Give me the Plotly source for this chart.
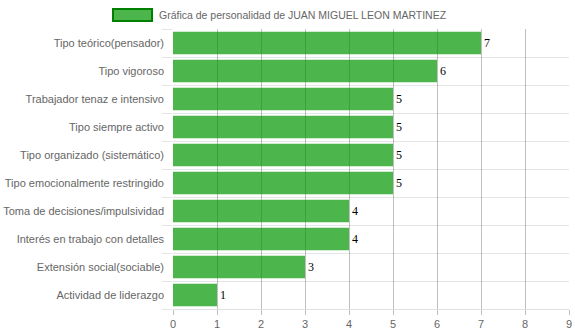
import plotly.graph_objects as go

categories = [
    "Tipo teórico(pensador)",
    "Tipo vigoroso",
    "Trabajador tenaz e intensivo",
    "Tipo siempre activo",
    "Tipo organizado (sistemático)",
    "Tipo emocionalmente restringido",
    "Toma de decisiones/impulsividad",
    "Interés en trabajo con detalles",
    "Extensión social(sociable)",
    "Actividad de liderazgo",
]
values = [7, 6, 5, 5, 5, 5, 4, 4, 3, 1]
series_name = "Gráfica de personalidad de JUAN MIGUEL LEON MARTINEZ"
x_ticks = list(range(0, 10))

n = len(categories)
ypos = list(range(n))  # 0 at top (axis reversed)

label_font = dict(family="Liberation Serif, Times New Roman, serif", size=12, color="black")

fig = go.Figure()
fig.add_trace(go.Bar(
    x=values, y=ypos, orientation="h", name=series_name,
    marker=dict(color="rgba(0,150,0,0.7)", line=dict(width=0)),
    width=0.8,
    text=[str(v) for v in values], textposition="outside",
    textfont=label_font, outsidetextfont=label_font,
    cliponaxis=False, showlegend=False,
))

fig.update_layout(
    width=575, height=334,
    margin=dict(l=173, r=6, t=29, b=25, autoexpand=False),
    paper_bgcolor="white", plot_bgcolor="white",
    font=dict(family="Liberation Sans, Arial", size=11, color="#666"),
    bargap=0.2,
    xaxis=dict(
        range=[0, 9], tickvals=x_ticks, showgrid=True,
        gridcolor="rgba(0,0,0,0.25)", gridwidth=1,
        zeroline=False, showline=True, linecolor="rgba(0,0,0,0.12)",
        ticks="outside", ticklen=5, tickcolor="rgba(0,0,0,0.25)",
        tickfont=dict(size=11, color="#666"), fixedrange=True, automargin=False,
    ),
    yaxis=dict(
        range=[n - 0.5, -0.5], tickvals=ypos, ticktext=categories,
        showgrid=False, zeroline=False, ticks="", showline=False,
        ticklabelstandoff=8, automargin=False,
        minor=dict(tickvals=[i - 0.5 for i in range(n + 1)], showgrid=True,
                   gridcolor="rgba(0,0,0,0.1)", gridwidth=1,
                   ticks="outside", ticklen=10, tickcolor="rgba(0,0,0,0.1)"),
        tickfont=dict(size=11, color="#666"), fixedrange=True,
    ),
    shapes=[dict(type="rect", xref="paper", yref="paper",
                 x0=-0.1515, x1=-0.053, y0=1.0286, y1=1.0714,
                 fillcolor="rgba(0,150,0,0.7)", line=dict(color="#008000", width=2))],
    annotations=[dict(text=series_name, xref="paper", yref="paper",
                      x=-0.0404, y=1.05, xanchor="left", yanchor="middle",
                      showarrow=False, font=dict(size=10.5, color="#666"))],
)

fig.write_html("out.html")
